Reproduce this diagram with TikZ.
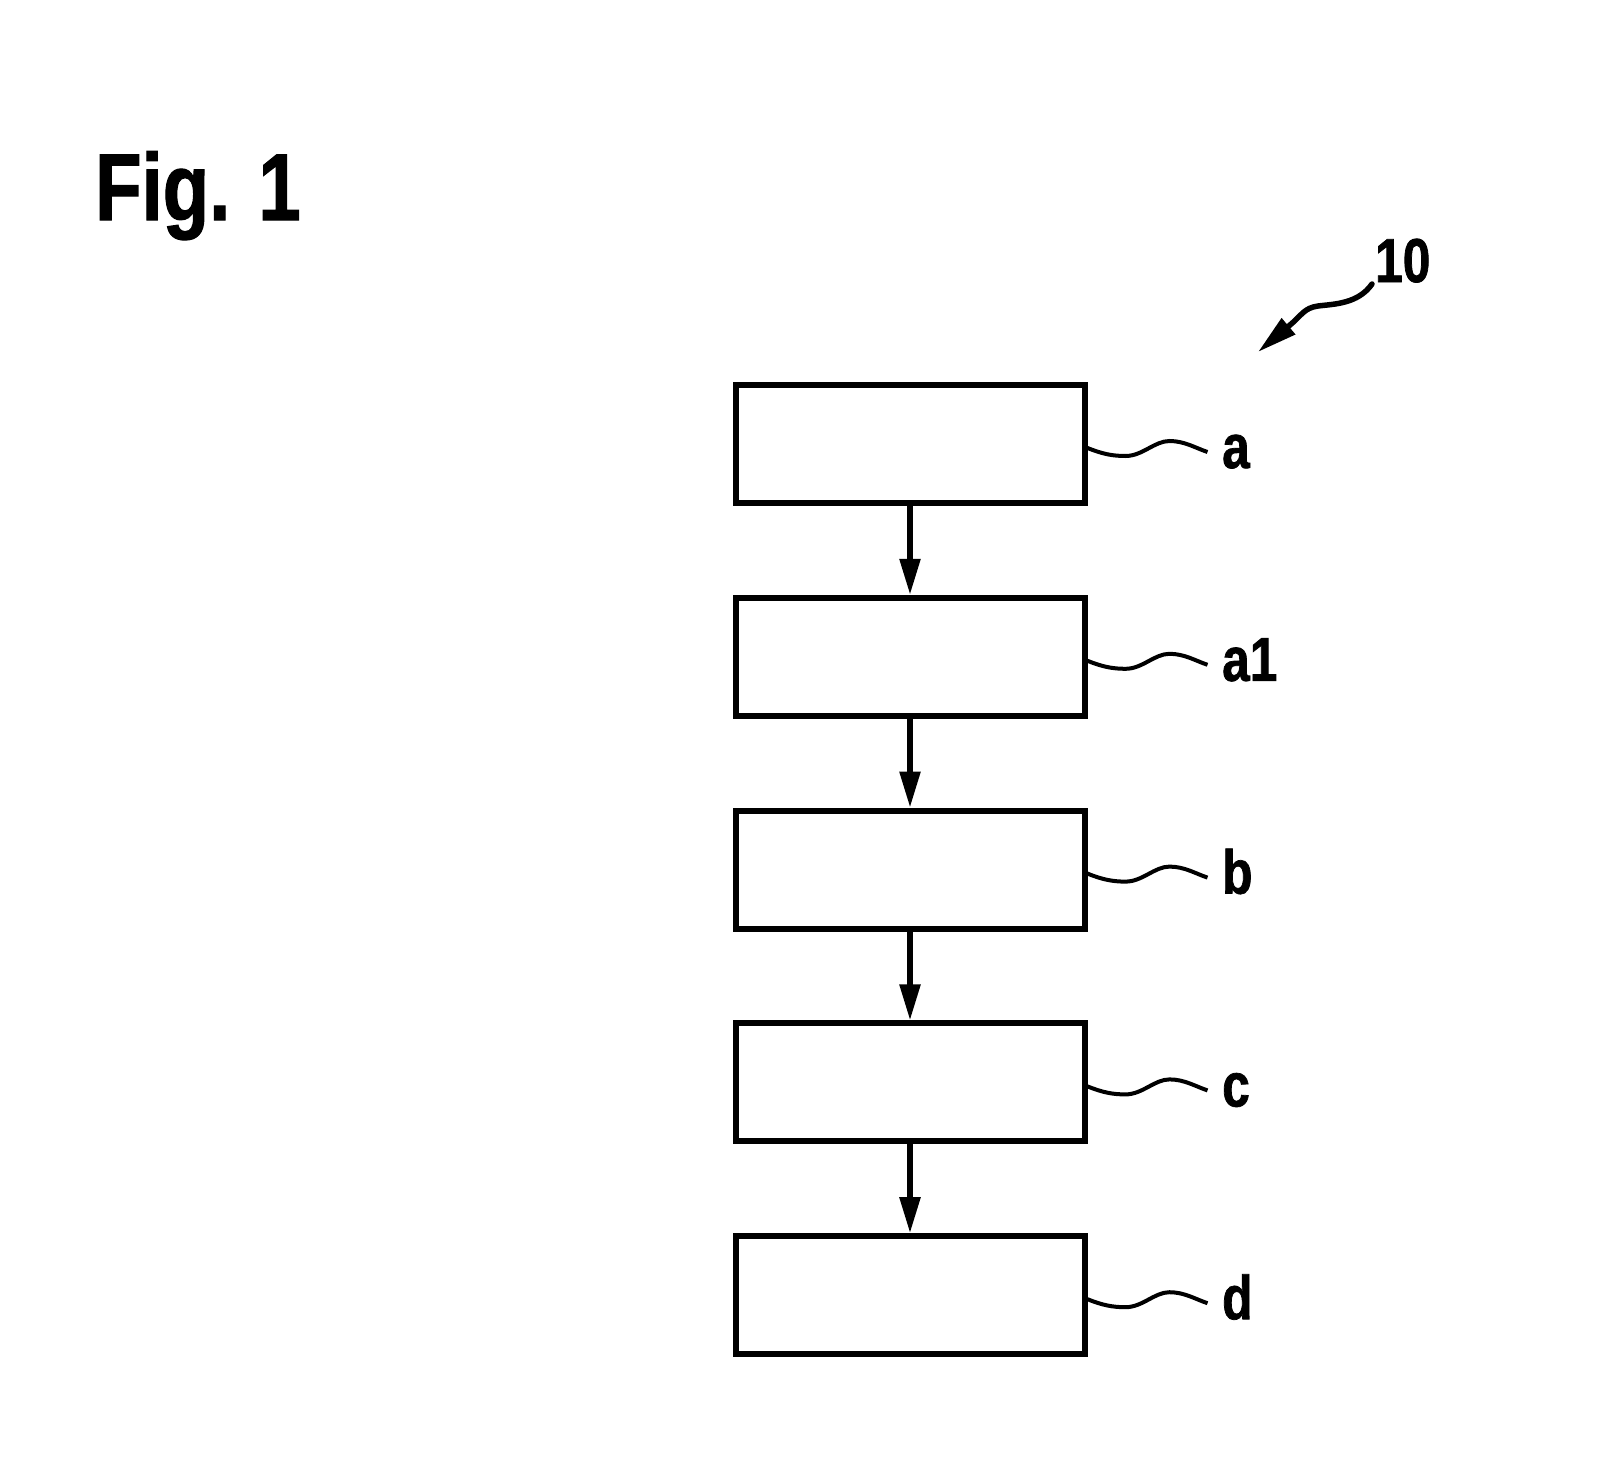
\documentclass[tikz,border=0pt]{standalone}
\usepackage{fontspec}
\newfontfamily\labfont[FakeStretch=0.8,FakeBold=1.2]{Liberation Sans}
\usetikzlibrary{arrows.meta,calc}
\begin{document}
\begin{tikzpicture}[x=1pt,y=-1pt,
  stepbox/.style={draw,line width=6pt,minimum width=349pt,minimum height=118pt,inner sep=0pt},
  flow/.style={line width=5.5pt,-{Triangle[length=36pt,width=20pt]}},
  leader/.style={line width=4pt},
  reflabel/.style={font=\labfont\bfseries\fontsize{62pt}{62pt}\selectfont,inner sep=0pt,anchor=base west}]
\useasboundingbox (0,0) rectangle (1622,1469);
\node[font=\labfont\bfseries\fontsize{95pt}{95pt}\selectfont,anchor=base west,inner sep=0pt] (fig) at (95,220) {Fig. 1};
\foreach \n/\t [count=\i from 0] in {a/a,a1/a1,b/b,c/c,d/d} {
  \node[stepbox] (\n) at (910,{444+212.8*\i}) {};
  \node[reflabel] (l\n) at ($(\n.center)+(312,24)$) {\t};
  \draw[leader] ([yshift=-4pt]\n.east) .. controls +(15,6) and +(-13,0) .. ++(38,8)
     .. controls +(17,0) and +(-15,0) .. ++(44,-15)
     .. controls +(15,0) and +(-12,-4) .. ++(38,11);
}
\draw[flow] (a) -- (a1);
\draw[flow] (a1) -- (b);
\draw[flow] (b) -- (c);
\draw[flow] (c) -- (d);
\node[reflabel] (ten) at (1375,282) {10};
\coordinate (tentip) at (1258,352);
\draw[line width=5.5pt,line cap=round,-{Triangle[length=40pt,width=20pt]}] ($(ten.base west)+(-3,2)$) .. controls +(-14,20) and +(16,-2) .. (1318,306) .. controls +(-14,2) and +(12,-10) .. (1290,325) -- (tentip);
\end{tikzpicture}
\end{document}
